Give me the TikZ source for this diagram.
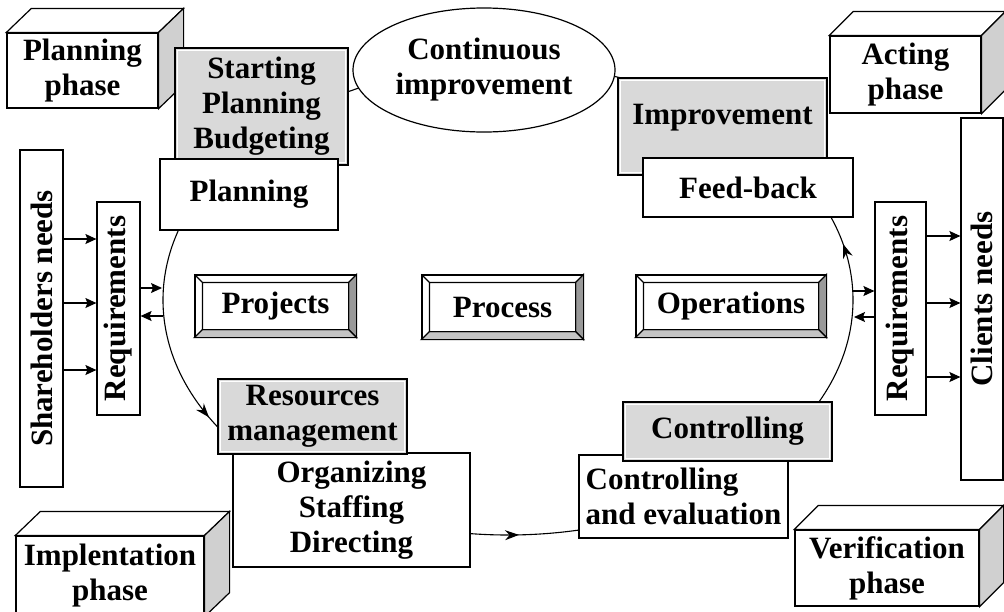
\documentclass[tikz,border=0pt]{standalone}
\usepackage{fontspec}
\setmainfont{Liberation Serif}
\usetikzlibrary{arrows.meta,shapes.geometric,decorations.markings}
\definecolor{boxgray}{HTML}{D9D9D9}
\definecolor{sidegray}{HTML}{D0D0D0}
\definecolor{bevdark}{HTML}{999999}
\definecolor{bevlight}{HTML}{C4C4C4}

\begin{document}
\begin{tikzpicture}[x=1pt,y=-1pt,line width=1.2pt,
  every node/.style={font=\bfseries\fontsize{31}{35}\selectfont,align=center,inner sep=0pt},
  whitebox/.style={draw,fill=white},
  graybox/.style={draw,fill=boxgray,path picture={\draw[white,line width=0.8pt]
    ([shift={(2.2,2.2)}]path picture bounding box.north west) rectangle
    ([shift={(-2.2,-2.2)}]path picture bounding box.south east);}},
  arr/.style={-{Stealth[length=11pt,width=10pt,inset=2pt]},line width=1.1pt},
  cyctip/.style={decoration={markings,
    mark=at position 0.244 with {\arrowreversed{Stealth[length=14pt,width=10pt]}},
    mark=at position 0.43 with {\arrowreversed{Stealth[length=14pt,width=10pt]}},
    mark=at position 0.969 with {\arrowreversed{Stealth[length=14pt,width=10pt]}}},
    postaction={decorate}}]
\useasboundingbox (0,0) rectangle (1004,611);
% the cycle behind the boxes
\coordinate (cyc) at (508,300);
\draw[cyctip,line width=1.1pt] (cyc) ellipse [x radius=345, y radius=235];
% phases
\node[whitebox,minimum width=151,minimum height=75] (plph) at (82.5,70.5) {Planning\\phase};
\draw[fill=white] (plph.north west) -- ([shift={(25,-24)}]plph.north west) -- ([shift={(25,-24)}]plph.north east) -- (plph.north east) -- cycle;
\draw[fill=sidegray] (plph.north east) -- ([shift={(25,-24)}]plph.north east) -- ([shift={(25,-24)}]plph.south east) -- (plph.south east) -- cycle;
\node[whitebox,minimum width=151,minimum height=77] (acph) at (905.5,74.5) {Acting\\phase};
\draw[fill=white] (acph.north west) -- ([shift={(24,-24)}]acph.north west) -- ([shift={(24,-24)}]acph.north east) -- (acph.north east) -- cycle;
\draw[fill=sidegray] (acph.north east) -- ([shift={(24,-24)}]acph.north east) -- ([shift={(24,-24)}]acph.south east) -- (acph.south east) -- cycle;
\node[whitebox,minimum width=184,minimum height=76] (vfph) at (887,568) {Verification\\phase};
\draw[fill=white] (vfph.north west) -- ([shift={(24,-24)}]vfph.north west) -- ([shift={(24,-24)}]vfph.north east) -- (vfph.north east) -- cycle;
\draw[fill=sidegray] (vfph.north east) -- ([shift={(24,-24)}]vfph.north east) -- ([shift={(24,-24)}]vfph.south east) -- (vfph.south east) -- cycle;
\node[whitebox,minimum width=188,minimum height=80] (imph) at (110,576) {Implentation\\phase};
\draw[fill=white] (imph.north west) -- ([shift={(25,-24)}]imph.north west) -- ([shift={(25,-24)}]imph.north east) -- (imph.north east) -- cycle;
\draw[fill=sidegray] (imph.north east) -- ([shift={(25,-24)}]imph.north east) -- ([shift={(25,-24)}]imph.south east) -- (imph.south east) -- cycle;
% top of the cycle
\node[graybox,minimum width=173,minimum height=117] (start) at (261.5,106.5) {Starting\\Planning\\Budgeting};
\node[whitebox,minimum width=178,minimum height=71] (plan) at (249,194.5) {Planning};
\node[whitebox,ellipse,minimum width=262,minimum height=124] (ci) at (484,70) {Continuous\\improvement};
\node[graybox,minimum width=209,minimum height=97] (impr) at (722.5,126.5) {};
\node at ([yshift=9]impr.center) {Improvement};
\node[whitebox,minimum width=210,minimum height=59] (feed) at (748,187.5) {Feed-back};
% needs and requirements
\node[whitebox,minimum width=43,minimum height=337] (share) at (41.5,318.5) {};
\node[rotate=90] at (share) {Shareholders needs};
\node[whitebox,minimum width=43,minimum height=213] (lreq) at (118.5,308.5) {};
\node[rotate=90] at (lreq) {Requirements};
\node[whitebox,minimum width=51,minimum height=213] (rreq) at (900.5,308.5) {};
\node[rotate=90] at (rreq) {Requirements};
\node[whitebox,minimum width=42,minimum height=362] (client) at (982,299) {};
\node[rotate=90] at (client) {Clients needs};
% bevelled boxes
\node[whitebox,minimum width=161,minimum height=62] (proj) at (275.5,306) {Projects};
\draw[fill=bevdark] (proj.north east) -- (proj.south east) -- ([shift={(-8,-8)}]proj.south east) -- ([shift={(-8,8)}]proj.north east) -- cycle;
\draw[fill=bevlight] (proj.south west) -- (proj.south east) -- ([shift={(-8,-8)}]proj.south east) -- ([shift={(8,-8)}]proj.south west) -- cycle;
\draw (proj.north west) -- ([shift={(8,8)}]proj.north west) rectangle ([shift={(-8,-8)}]proj.south east);
\node[whitebox,minimum width=161,minimum height=64] (proc) at (502.5,307) {Process};
\draw[fill=bevdark] (proc.north east) -- (proc.south east) -- ([shift={(-8,-8)}]proc.south east) -- ([shift={(-8,8)}]proc.north east) -- cycle;
\draw[fill=bevlight] (proc.south west) -- (proc.south east) -- ([shift={(-8,-8)}]proc.south east) -- ([shift={(8,-8)}]proc.south west) -- cycle;
\draw (proc.north west) -- ([shift={(8,8)}]proc.north west) rectangle ([shift={(-8,-8)}]proc.south east);
\node[whitebox,minimum width=190,minimum height=62] (oper) at (731,306) {Operations};
\draw[fill=bevdark] (oper.north east) -- (oper.south east) -- ([shift={(-8,-8)}]oper.south east) -- ([shift={(-8,8)}]oper.north east) -- cycle;
\draw[fill=bevlight] (oper.south west) -- (oper.south east) -- ([shift={(-8,-8)}]oper.south east) -- ([shift={(8,-8)}]oper.south west) -- cycle;
\draw (oper.north west) -- ([shift={(8,8)}]oper.north west) rectangle ([shift={(-8,-8)}]oper.south east);
% bottom of the cycle
\node[whitebox,minimum width=237,minimum height=114] (org) at (351.5,510) {Organizing\\Staffing\\Directing};
\node[graybox,minimum width=189,minimum height=75] (res) at (312.5,416.5) {Resources\\management};
\node[whitebox,align=left,minimum width=209,minimum height=83] (eval) at (683.5,496.5) {Controlling\\and evaluation};
\node[graybox,minimum width=209,minimum height=59] (ctrl) at (727.5,431.5) {Controlling};
% arrows
\draw[arr] (share.east |- 0,239) -- (lreq.west |- 0,239);
\draw[arr] (share.east |- 0,303) -- (lreq.west |- 0,303);
\draw[arr] (share.east |- 0,370) -- (lreq.west |- 0,370);
\coordinate (cl1) at (162,288);
\coordinate (cl2) at (163,316);
\draw[arr] (lreq.east |- cl1) -- (cl1);
\draw[arr] (cl2) -- (lreq.east |- cl2);
\coordinate (cr1) at (853,291);
\coordinate (cr2) at (854,317);
\draw[arr] (cr1) -- (rreq.west |- cr1);
\draw[arr] (rreq.west |- cr2) -- (cr2);
\draw[arr] (rreq.east |- 0,236) -- (client.west |- 0,236);
\draw[arr] (rreq.east |- 0,303) -- (client.west |- 0,303);
\draw[arr] (rreq.east |- 0,377) -- (client.west |- 0,377);
\end{tikzpicture}
\end{document}
